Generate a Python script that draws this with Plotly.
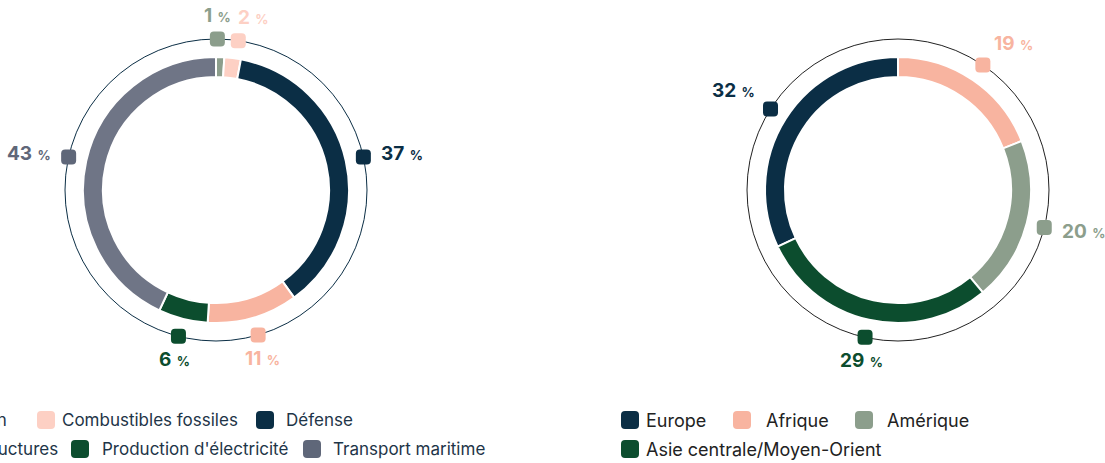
import math
import plotly.graph_objects as go

# ---------------- data ----------------
left_labels = ["Aviation", "Combustibles fossiles", "Défense", "Infrastructures",
               "Production d'électricité", "Transport maritime"]
left_values = [1, 2, 37, 11, 6, 43]
left_colors = ["#8c9e8c", "#fdd0c4", "#0b2e45", "#f8b4a0", "#0c4d2e", "#6f7586"]
left_mark_colors = ["#8c9e8c", "#fdd0c4", "#0b2e45", "#f8b4a0", "#0c4d2e", "#5f6779"]

right_labels = ["Europe", "Afrique", "Amérique", "Asie centrale/Moyen-Orient"]
right_values = [32, 19, 20, 29]
right_colors = ["#0b2e45", "#f8b4a0", "#8c9e8c", "#0c4d2e"]

# ---------------- layout constants ----------------
W, H = 1105, 463
R_RING = 133
R_OUT = 151
LEFT_C = (216, 190)
RIGHT_C = (898, 190)
FONT = "Inter"
MIN_MARK_GAP = 21  # px along the outer circle between neighbouring markers
LABEL_XANCHOR_OVERRIDE = {"Combustibles fossiles": ("left", -2)}

fig = go.Figure()


def domain_for(c, r):
    cx, cy = c
    return dict(x=[(cx - r) / W, (cx + r) / W], y=[1 - (cy + r) / H, 1 - (cy - r) / H])


def rounded_square(cx, cy, s, r):
    h = s / 2
    x0, x1, y0, y1 = cx - h, cx + h, cy - h, cy + h
    return (f"M {x0 + r},{y0} L {x1 - r},{y0} Q {x1},{y0} {x1},{y0 + r} "
            f"L {x1},{y1 - r} Q {x1},{y1} {x1 - r},{y1} L {x0 + r},{y1} "
            f"Q {x0},{y1} {x0},{y1 - r} L {x0},{y0 + r} Q {x0},{y0} {x0 + r},{y0} Z")


shapes = []
annotations = []


def add_donut(labels, values, colors, mark_colors, center, rotation, circle_color):
    fig.add_trace(go.Pie(
        labels=labels, values=values, hole=0.85, sort=False, direction="clockwise",
        rotation=rotation, textinfo="none", showlegend=False,
        marker=dict(colors=colors, line=dict(color="white", width=2)),
        domain=domain_for(center, R_RING), hoverinfo="label+percent",
    ))
    cx, cy = center
    shapes.append(dict(type="circle", xref="x", yref="y", x0=cx - R_OUT, x1=cx + R_OUT,
                       y0=cy - R_OUT, y1=cy + R_OUT, line=dict(color=circle_color, width=1),
                       layer="below"))
    total = sum(values)
    cum = 0
    angles = []
    for v in values:
        angles.append(rotation + 360 * (cum + v / 2) / total)
        cum += v
    # spread markers that would touch
    min_deg = math.degrees(MIN_MARK_GAP / R_OUT)
    for i in range(1, len(angles)):
        d = angles[i] - angles[i - 1]
        if d < min_deg:
            push = (min_deg - d) / 2
            angles[i - 1] -= push
            angles[i] += push
    for lab, v, col, ang in zip(labels, values, mark_colors, angles):
        theta = math.radians(ang)
        s, c = math.sin(theta), math.cos(theta)
        mx, my = cx + R_OUT * s, cy - R_OUT * c
        shapes.append(dict(type="path", xref="x", yref="y",
                           path=rounded_square(mx, my, 15, 4),
                           fillcolor=col, line=dict(width=0)))
        xa = "left" if s > 0.5 else ("right" if s < -0.5 else "center")
        ya = "bottom" if c > 0.5 else ("top" if c < -0.5 else "middle")
        tx = mx + 16 * s
        ty = my - (17 if ya == "middle" else 10) * c
        if lab in LABEL_XANCHOR_OVERRIDE:
            xa, dx = LABEL_XANCHOR_OVERRIDE[lab]
            tx = mx + dx
        annotations.append(dict(
            x=tx, y=ty, xref="x", yref="y", xanchor=xa, yanchor=ya, showarrow=False,
            text=f"<b>{v}</b> <b><span style='font-size:13px'>%</span></b>",
            font=dict(family=FONT, size=19, color=col),
        ))


add_donut(left_labels, left_values, left_colors, left_mark_colors, LEFT_C, 0, "#0b2e45")
add_donut(right_labels, right_values, right_colors, right_colors, RIGHT_C,
          -360 * right_values[0] / sum(right_values), "#222222")

# ---------------- legends (manual) ----------------
ROW_Y = [420, 449]
# (swatch x, text x, text anchor, row) per legend item
left_legend_pos = [(None, 9, "right", 0), (37, 60, "left", 0), (256, 284, "left", 0),
                   (None, 60, "right", 1), (71, 100, "left", 1), (303, 331, "left", 1)]
right_legend_pos = [(621, 644, "left", 0), (733, 764, "left", 0), (855, 885, "left", 0),
                    (621, 644, "left", 1)]


def add_legend(labels, colors, pos, text_color, size):
    for lab, col, (sx, tx, anc, row) in zip(labels, colors, pos):
        y = ROW_Y[row]
        if sx is not None:
            shapes.append(dict(type="path", xref="x", yref="y",
                               path=rounded_square(sx + 9, y, 18, 4),
                               fillcolor=col, line=dict(width=0)))
        annotations.append(dict(x=tx, y=y, xref="x", yref="y", xanchor=anc, yanchor="middle",
                                showarrow=False, text=lab,
                                font=dict(family=FONT, size=size, color=text_color)))


add_legend(left_labels, left_mark_colors, left_legend_pos, "#1e3548", 17)
add_legend(right_labels, right_colors, right_legend_pos, "#222222", 18)

fig.update_layout(
    width=W, height=H, margin=dict(l=0, r=0, t=0, b=0),
    paper_bgcolor="white", plot_bgcolor="rgba(0,0,0,0)",
    xaxis=dict(range=[0, W], visible=False, fixedrange=True, domain=[0, 1]),
    yaxis=dict(range=[H, 0], visible=False, fixedrange=True, domain=[0, 1]),
    shapes=shapes, annotations=annotations, showlegend=False,
)

fig.write_html("out.html")
